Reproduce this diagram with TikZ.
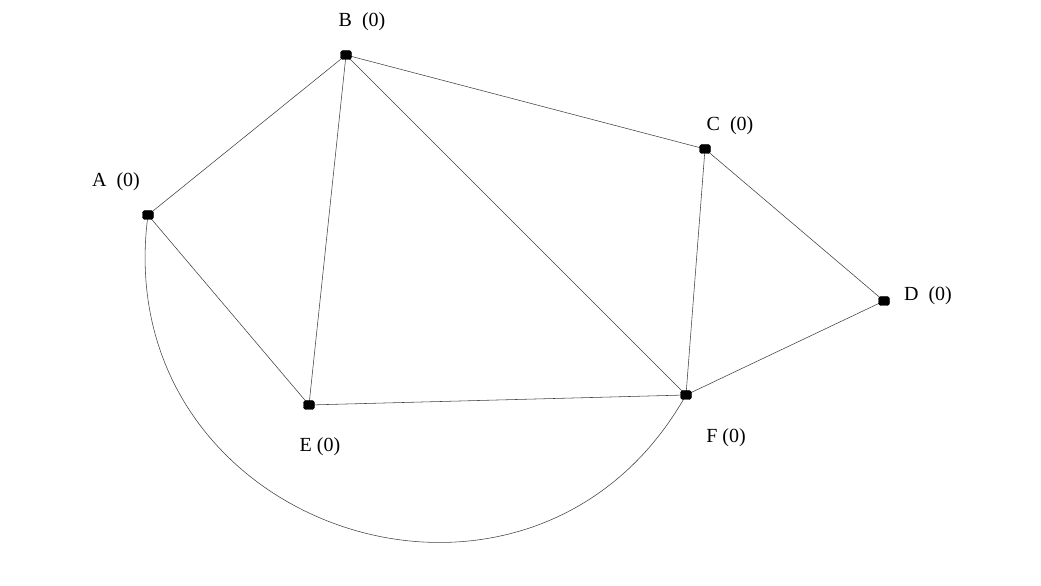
\documentclass[tikz,border=0pt]{standalone}
\usepackage{fontspec}
\setmainfont{Liberation Serif}
\begin{document}
\begin{tikzpicture}[x=1pt,y=1pt,
  vtx/.style={draw=black,fill=black,rectangle,rounded corners=2.5pt,minimum width=11pt,minimum height=9pt,inner sep=0pt},
  lbl/.style={font=\fontsize{20}{24}\selectfont,inner sep=0pt},
  edge/.style={line width=0.55pt,black!75}]
\useasboundingbox (0,0) rectangle (1041,586);
\coordinate (A) at (148,371);
\coordinate (B) at (346,531);
\coordinate (C) at (705,437);
\coordinate (D) at (884,285);
\coordinate (E) at (309,181);
\coordinate (F) at (686,191);
\draw[edge] (A) -- (B);
\draw[edge] (A) -- (E);
\draw[edge] (B) -- (E);
\draw[edge] (B) -- (F);
\draw[edge] (B) -- (C);
\draw[edge] (C) -- (F);
\draw[edge] (C) -- (D);
\draw[edge] (D) -- (F);
\draw[edge] (E) -- (F);
\draw[edge] (A) to[out=262.4,in=240.6,looseness=1.43] (F);
\node[vtx] (nA) at (A) {};
\node[vtx] (nB) at (B) {};
\node[vtx] (nC) at (C) {};
\node[vtx] (nD) at (D) {};
\node[vtx] (nE) at (E) {};
\node[vtx] (nF) at (F) {};
\node[lbl] (lA) at (116,404) {A~~(0)};
\node[lbl] (lB) at (362,564) {B~~(0)};
\node[lbl] (lC) at (730,460) {C~~(0)};
\node[lbl] (lD) at (928,290) {D~~(0)};
\node[lbl] (lE) at (320,139) {E (0)};
\node[lbl] (lF) at (726,148) {F (0)};
\end{tikzpicture}
\end{document}
